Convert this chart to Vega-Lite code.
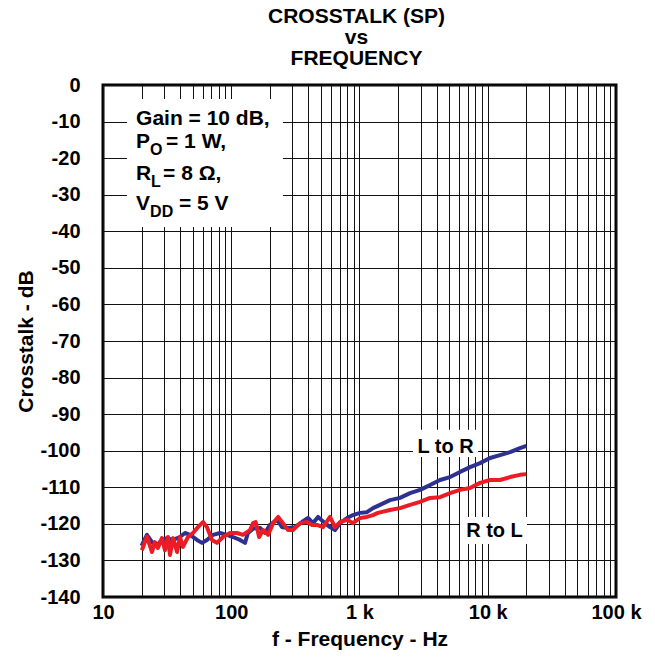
{
 "$schema": "https://vega.github.io/schema/vega-lite/v6.json",
 "width": 513, "height": 512,
 "autosize": "none",
 "padding": {"left": 103, "top": 85, "right": 39, "bottom": 60},
 "background": "white",
 "config": {"font": "Liberation Sans", "view": {"stroke": "black", "strokeWidth": 3}},
 "title": {"text": ["CROSSTALK (SP)", "vs", "FREQUENCY"], "fontSize": 21, "fontWeight": "bold", "lineHeight": 21, "anchor": "middle", "dx": -3, "offset": 6, "color": "black", "font": "Liberation Sans"},
 "datasets": {
  "curves": [
   {"series":"L to R","f":20,"db":-126.0},{"series":"L to R","f":20.5,"db":-125.2},{"series":"L to R","f":22.0,"db":-123.0},{"series":"L to R","f":24.1,"db":-125.0},{"series":"L to R","f":26.4,"db":-125.8},{"series":"L to R","f":28.8,"db":-124.4},{"series":"L to R","f":31.6,"db":-123.9},{"series":"L to R","f":35.2,"db":-124.4},{"series":"L to R","f":39.8,"db":-123.6},{"series":"L to R","f":43.6,"db":-122.5},{"series":"L to R","f":47.7,"db":-123.0},{"series":"L to R","f":54.1,"db":-124.4},{"series":"L to R","f":59.2,"db":-125.2},{"series":"L to R","f":64.7,"db":-124.4},{"series":"L to R","f":72.1,"db":-123.0},{"series":"L to R","f":81.7,"db":-122.5},{"series":"L to R","f":92.7,"db":-123.0},{"series":"L to R","f":103.2,"db":-123.6},{"series":"L to R","f":117,"db":-124.4},{"series":"L to R","f":128,"db":-125.2},{"series":"L to R","f":135,"db":-122.5},{"series":"L to R","f":148,"db":-121.3},{"series":"L to R","f":168,"db":-121.1},{"series":"L to R","f":183,"db":-122.5},{"series":"L to R","f":200,"db":-120.3},{"series":"L to R","f":228,"db":-118.9},{"series":"L to R","f":249,"db":-120.9},{"series":"L to R","f":277,"db":-121.1},{"series":"L to R","f":314,"db":-120.9},{"series":"L to R","f":356,"db":-119.5},{"series":"L to R","f":397,"db":-118.4},{"series":"L to R","f":434,"db":-119.8},{"series":"L to R","f":475,"db":-118.1},{"series":"L to R","f":538,"db":-119.8},{"series":"L to R","f":589,"db":-120.9},{"series":"L to R","f":644,"db":-121.7},{"series":"L to R","f":705,"db":-119.8},{"series":"L to R","f":800,"db":-118.4},{"series":"L to R","f":889,"db":-117.6},{"series":"L to R","f":1009,"db":-117.0},{"series":"L to R","f":1143,"db":-116.8},{"series":"L to R","f":1274,"db":-115.7},{"series":"L to R","f":1445,"db":-114.8},{"series":"L to R","f":1729,"db":-113.5},{"series":"L to R","f":2069,"db":-112.9},{"series":"L to R","f":2477,"db":-111.6},{"series":"L to R","f":2965,"db":-110.7},{"series":"L to R","f":3548,"db":-109.4},{"series":"L to R","f":4246,"db":-108.0},{"series":"L to R","f":5082,"db":-107.2},{"series":"L to R","f":6081,"db":-105.8},{"series":"L to R","f":7278,"db":-104.5},{"series":"L to R","f":8710,"db":-103.4},{"series":"L to R","f":10420,"db":-102.0},{"series":"L to R","f":12470,"db":-101.2},{"series":"L to R","f":14930,"db":-100.4},{"series":"L to R","f":17830,"db":-99.3},{"series":"L to R","f":20000,"db":-98.7},
   {"series":"R to L","f":20.1,"db":-127.2},{"series":"R to L","f":22.0,"db":-123.5},{"series":"R to L","f":24.1,"db":-127.7},{"series":"R to L","f":25.4,"db":-125.0},{"series":"R to L","f":26.8,"db":-126.6},{"series":"R to L","f":28.8,"db":-123.9},{"series":"R to L","f":30.4,"db":-127.2},{"series":"R to L","f":32.1,"db":-123.6},{"series":"R to L","f":33.3,"db":-128.5},{"series":"R to L","f":35.2,"db":-123.9},{"series":"R to L","f":37.8,"db":-127.7},{"series":"R to L","f":39.8,"db":-123.6},{"series":"R to L","f":42.0,"db":-126.3},{"series":"R to L","f":46.0,"db":-123.6},{"series":"R to L","f":50.3,"db":-122.5},{"series":"R to L","f":55.0,"db":-120.9},{"series":"R to L","f":60.2,"db":-119.5},{"series":"R to L","f":64.7,"db":-120.9},{"series":"R to L","f":70.8,"db":-124.4},{"series":"R to L","f":77.4,"db":-125.2},{"series":"R to L","f":86.2,"db":-123.6},{"series":"R to L","f":97.8,"db":-122.5},{"series":"R to L","f":110.9,"db":-122.5},{"series":"R to L","f":123.6,"db":-123.0},{"series":"R to L","f":140,"db":-121.7},{"series":"R to L","f":148,"db":-119.8},{"series":"R to L","f":155,"db":-119.5},{"series":"R to L","f":165,"db":-123.6},{"series":"R to L","f":177,"db":-121.7},{"series":"R to L","f":194,"db":-123.0},{"series":"R to L","f":212,"db":-119.8},{"series":"R to L","f":232,"db":-118.1},{"series":"R to L","f":253,"db":-119.8},{"series":"R to L","f":277,"db":-121.7},{"series":"R to L","f":303,"db":-121.7},{"series":"R to L","f":344,"db":-119.8},{"series":"R to L","f":390,"db":-119.5},{"series":"R to L","f":427,"db":-120.3},{"series":"R to L","f":466,"db":-120.3},{"series":"R to L","f":519,"db":-120.9},{"series":"R to L","f":589,"db":-118.1},{"series":"R to L","f":644,"db":-120.9},{"series":"R to L","f":705,"db":-119.5},{"series":"R to L","f":800,"db":-118.9},{"series":"R to L","f":889,"db":-119.8},{"series":"R to L","f":1009,"db":-118.4},{"series":"R to L","f":1143,"db":-118.1},{"series":"R to L","f":1274,"db":-117.6},{"series":"R to L","f":1393,"db":-117.0},{"series":"R to L","f":1729,"db":-116.2},{"series":"R to L","f":2069,"db":-115.7},{"series":"R to L","f":2477,"db":-114.8},{"series":"R to L","f":2965,"db":-114.0},{"series":"R to L","f":3548,"db":-112.9},{"series":"R to L","f":4246,"db":-112.7},{"series":"R to L","f":5082,"db":-111.6},{"series":"R to L","f":6081,"db":-110.7},{"series":"R to L","f":7278,"db":-110.2},{"series":"R to L","f":8710,"db":-108.8},{"series":"R to L","f":10420,"db":-108.0},{"series":"R to L","f":12470,"db":-108.0},{"series":"R to L","f":14930,"db":-107.2},{"series":"R to L","f":17830,"db":-106.6},{"series":"R to L","f":20000,"db":-106.4}
  ],
  "boxes": [
   {"f":15.4,"f2":253,"db":-3.8,"db2":-38.8},
   {"f":2612,"f2":8395,"db":-94.3,"db2":-101.7},
   {"f":6081,"f2":20230,"db":-118.1,"db2":-125.5}
  ],
  "notes": [
   {"f":18.1,"db":-10.94,"label":"Gain = 10 dB,"},
   {"f":18.1,"db":-17.23,"label":"P"},
   {"f":31.0,"db":-17.23,"label":"= 1 W,"},
   {"f":18.1,"db":-25.98,"label":"R"},
   {"f":29.4,"db":-25.98,"label":"= 8 Ω,"},
   {"f":18.1,"db":-34.18,"label":"V"},
   {"f":39.1,"db":-34.18,"label":"= 5 V"}
  ],
  "subs": [
   {"f":23.3,"db":-19.14,"label":"O"},
   {"f":23.7,"db":-27.89,"label":"L"},
   {"f":23.3,"db":-36.1,"label":"DD"}
  ],
  "tags": [
   {"f":4685,"db":-100.6,"label":"L to R"},
   {"f":11290,"db":-123.6,"label":"R to L"}
  ]
 },
 "layer": [
  {
   "data": {"name": "boxes"},
   "mark": {"type": "rect", "fill": "white", "stroke": null},
   "encoding": {
    "x": {"field": "f", "type": "quantitative", "scale": {"type": "log", "domain": [10, 100000]},
     "axis": {"title": "f - Frequency - Hz", "values": [10,20,30,40,50,60,70,80,90,100,200,300,400,500,600,700,800,900,1000,2000,3000,4000,5000,6000,7000,8000,9000,10000,20000,30000,40000,50000,60000,70000,80000,90000,100000],
      "labelExpr": "datum.value == 10 ? '10' : datum.value == 100 ? '100' : datum.value == 1000 ? '1 k' : datum.value == 10000 ? '10 k' : datum.value == 100000 ? '100 k' : ''",
      "grid": true, "gridColor": "#111", "gridWidth": 1, "ticks": false, "domain": false,
      "labelFontSize": 20, "labelFontWeight": "bold", "labelColor": "black", "labelPadding": 5, "labelOverlap": false, "labelBound": false, "labelFlush": false,
      "titleFontSize": 21, "titleFontWeight": "bold", "titleColor": "black", "titlePadding": 6}},
    "x2": {"field": "f2"},
    "y": {"field": "db", "type": "quantitative", "scale": {"domain": [-140, 0], "nice": false},
     "axis": {"title": "Crosstalk - dB", "values": [0,-10,-20,-30,-40,-50,-60,-70,-80,-90,-100,-110,-120,-130,-140], "tickCount": 15,
      "labelExpr": "'' + datum.value",
      "grid": true, "gridColor": "#111", "gridWidth": 1, "ticks": false, "domain": false,
      "labelFontSize": 20, "labelFontWeight": "bold", "labelColor": "black", "labelPadding": 23, "labelOverlap": false, "labelBound": false, "labelFlush": false,
      "titleFontSize": 21, "titleFontWeight": "bold", "titleColor": "black", "titlePadding": 3}},
    "y2": {"field": "db2"}
   }
  },
  {
   "data": {"name": "curves"},
   "mark": {"type": "line", "strokeWidth": 4, "strokeJoin": "round"},
   "encoding": {
    "x": {"field": "f", "type": "quantitative"},
    "y": {"field": "db", "type": "quantitative",
     "axis": {"title": "Crosstalk - dB", "values": [0,-10,-20,-30,-40,-50,-60,-70,-80,-90,-100,-110,-120,-130,-140], "tickCount": 15,
      "labelExpr": "'' + datum.value",
      "grid": true, "gridColor": "#111", "gridWidth": 1, "ticks": false, "domain": false,
      "labelFontSize": 20, "labelFontWeight": "bold", "labelColor": "black", "labelPadding": 23, "labelOverlap": false, "labelBound": false, "labelFlush": false,
      "titleFontSize": 21, "titleFontWeight": "bold", "titleColor": "black", "titlePadding": 3}},
    "color": {"field": "series", "type": "nominal", "scale": {"domain": ["L to R", "R to L"], "range": ["#2E3192", "#ED1C24"]}, "legend": null}
   }
  },
  {
   "data": {"name": "notes"},
   "mark": {"type": "text", "align": "left", "baseline": "alphabetic", "fontSize": 21, "fontWeight": "bold", "color": "black"},
   "encoding": {
    "x": {"field": "f", "type": "quantitative"},
    "y": {"field": "db", "type": "quantitative"},
    "text": {"field": "label"}
   }
  },
  {
   "data": {"name": "subs"},
   "mark": {"type": "text", "align": "left", "baseline": "alphabetic", "fontSize": 16, "fontWeight": "bold", "color": "black"},
   "encoding": {
    "x": {"field": "f", "type": "quantitative"},
    "y": {"field": "db", "type": "quantitative"},
    "text": {"field": "label"}
   }
  },
  {
   "data": {"name": "tags"},
   "mark": {"type": "text", "align": "center", "baseline": "alphabetic", "fontSize": 20, "fontWeight": "bold", "color": "black"},
   "encoding": {
    "x": {"field": "f", "type": "quantitative"},
    "y": {"field": "db", "type": "quantitative"},
    "text": {"field": "label"}
   }
  }
 ]
}
